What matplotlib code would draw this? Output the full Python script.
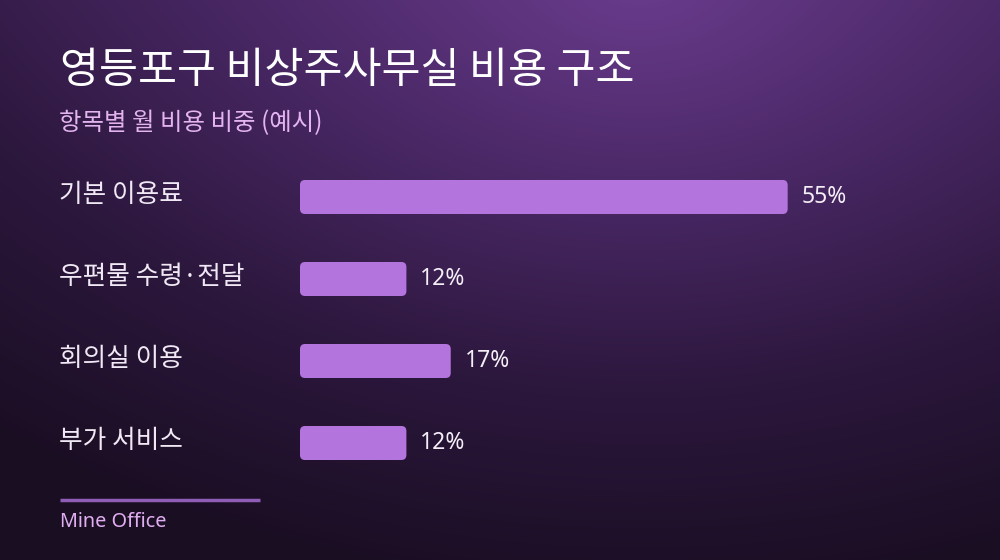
import numpy as np
import matplotlib
matplotlib.use("Agg")
import matplotlib.pyplot as plt
from matplotlib.patches import FancyBboxPatch
from matplotlib.colors import LinearSegmentedColormap

plt.rcParams["font.family"] = ["Noto Sans CJK KR", "DejaVu Sans"]

# Data
categories = ["기본 이용료", "우편물 수령·전달", "회의실 이용", "부가 서비스"]
shares = [55, 12, 17, 12]
value_labels = ["55%", "12%", "17%", "12%"]

title = "영등포구 비상주사무실 비용 구조"
subtitle = "항목별 월 비용 비중 (예시)"
footer = "Mine Office"

W, H = 1000, 560
fig = plt.figure(figsize=(W / 100, H / 100), dpi=100)

# Background: radial glow near the top, darker toward the bottom
bg = fig.add_axes([0, 0, 1, 1])
bg.set_axis_off()
yy, xx = np.mgrid[0:H, 0:W]
d = np.sqrt(((xx - 640) / 620.0) ** 2 + ((yy + 20) / 520.0) ** 2)
t = np.clip(d, 0, 1.4) / 1.4
t = np.clip(0.75 * t + 0.35 * (yy / H), 0, 1)
cmap = LinearSegmentedColormap.from_list("bg", ["#693b8c", "#4a2866", "#2c173d", "#1a0e23"])
bg.imshow(t, cmap=cmap, vmin=0, vmax=1, aspect="auto", extent=[0, W, H, 0])
bg.set_xlim(0, W)
bg.set_ylim(H, 0)

# Titles
bg.text(60, 71, title, color="white", fontsize=30.5, fontweight="medium", va="center", ha="left")
bg.text(59, 123, subtitle, color="#e4b4f0", fontsize=17.6, va="center", ha="left")

# Footer
bg.plot([60, 260], [500, 500], color="#8f5cb6", lw=2.5, solid_capstyle="butt")
bg.text(60, 522, footer, color="#e2aef2", fontsize=14.3, va="center", ha="left",
        family=["Noto Sans", "DejaVu Sans"])

# Bars axes: x in percent, rows in category index
ax = fig.add_axes([0.30, 1 - 484 / H, 0.532, 328 / H])
ax.set_xlim(0, 60)
ax.set_ylim(len(categories) - 0.5, -0.5)
ax.set_axis_off()
ax.patch.set_alpha(0)

px_x = 532 / 60.0
px_y = 82.0
r = 5.0
bar_h = 34 / 82.0
for i, (cat, v, lab) in enumerate(zip(categories, shares, value_labels)):
    p = FancyBboxPatch((0, i - bar_h / 2), v, bar_h,
                       boxstyle=f"round,pad=0,rounding_size={r / px_x}",
                       mutation_aspect=(px_x / px_y),
                       fc="#b474de", ec="none")
    ax.add_patch(p)
    ax.text(v + 14 / px_x, i, lab, color="#f4eef7", fontsize=16.5, va="center", ha="left",
            family=["Noto Sans", "DejaVu Sans"])
    bg.text(59, 197 + 82 * i - 2, cat, color="#f0e8f4", fontsize=18.5, va="center", ha="left")

fig.savefig("out.png", dpi=100)
